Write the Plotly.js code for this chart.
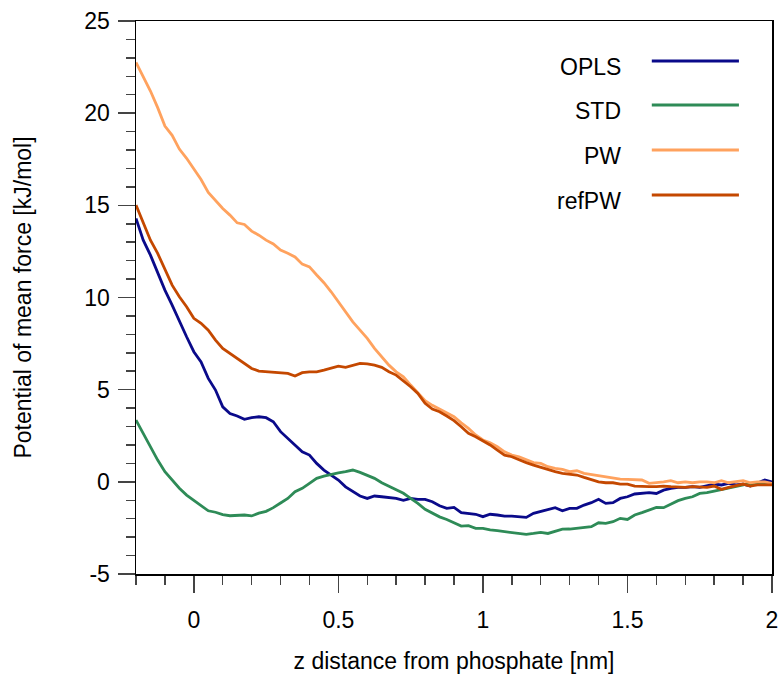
<!DOCTYPE html>
<html>
<head>
<meta charset="utf-8">
<script src="https://cdn.plot.ly/plotly-3.0.1.min.js"></script>
<style>html,body{margin:0;padding:0;background:#fff;}#chart{width:780px;height:682px;}</style>
</head>
<body>
<div id="chart"></div>
<script>
var zDist = [
 -0.2,-0.175,-0.15,-0.125,-0.1,-0.075,-0.05,-0.025,0,0.025,
 0.05,0.075,0.1,0.125,0.15,0.175,0.2,0.225,0.25,0.275,
 0.3,0.325,0.35,0.375,0.4,0.425,0.45,0.475,0.5,0.525,
 0.55,0.575,0.6,0.625,0.65,0.675,0.7,0.725,0.75,0.775,
 0.8,0.825,0.85,0.875,0.9,0.925,0.95,0.975,1.0,1.025,
 1.05,1.075,1.1,1.125,1.15,1.175,1.2,1.225,1.25,1.275,
 1.3,1.325,1.35,1.375,1.4,1.425,1.45,1.475,1.5,1.525,
 1.55,1.575,1.6,1.625,1.65,1.675,1.7,1.725,1.75,1.775,
 1.8,1.825,1.85,1.875,1.9,1.925,1.95,1.975,2.0];

var oplsPMF = [
 14.29,13.11,12.3,11.3,10.4,9.59,8.68,7.87,7.06,6.51,
 5.61,4.98,4.07,3.71,3.57,3.39,3.48,3.53,3.48,3.26,
 2.72,2.36,2.0,1.63,1.45,1.0,0.64,0.37,0.1,-0.27,
 -0.54,-0.77,-0.9,-0.77,-0.81,-0.85,-0.9,-1.0,-0.9,-0.95,
 -0.95,-1.08,-1.3,-1.44,-1.39,-1.67,-1.71,-1.76,-1.89,-1.76,
 -1.8,-1.86,-1.86,-1.89,-1.93,-1.71,-1.62,-1.53,-1.4,-1.57,
 -1.44,-1.44,-1.26,-1.13,-0.95,-1.17,-1.13,-0.9,-0.81,-0.66,
 -0.63,-0.59,-0.63,-0.45,-0.36,-0.3,-0.3,-0.26,-0.3,-0.23,
 -0.12,-0.17,-0.08,-0.17,-0.12,-0.23,-0.08,0.1,0.0];

var stdPMF = [
 3.35,2.63,1.9,1.18,0.55,0.1,-0.35,-0.72,-0.99,-1.26,
 -1.57,-1.65,-1.78,-1.84,-1.84,-1.8,-1.85,-1.7,-1.6,-1.4,
 -1.15,-0.9,-0.54,-0.35,-0.08,0.19,0.31,0.42,0.49,0.55,
 0.64,0.51,0.37,0.19,-0.05,-0.23,-0.41,-0.62,-0.9,-1.17,
 -1.49,-1.71,-1.9,-2.04,-2.22,-2.4,-2.38,-2.52,-2.52,-2.61,
 -2.65,-2.7,-2.76,-2.8,-2.85,-2.8,-2.74,-2.8,-2.7,-2.57,
 -2.56,-2.52,-2.47,-2.43,-2.22,-2.25,-2.16,-1.98,-2.04,-1.8,
 -1.67,-1.53,-1.39,-1.4,-1.2,-1.02,-0.9,-0.81,-0.63,-0.59,
 -0.5,-0.41,-0.36,-0.23,-0.14,-0.08,-0.12,-0.08,-0.12];

var pwPMF = [
 22.75,22.0,21.2,20.3,19.3,18.8,18.05,17.55,16.95,16.4,
 15.7,15.28,14.83,14.47,14.05,13.96,13.6,13.38,13.11,12.9,
 12.57,12.4,12.2,11.81,11.66,11.22,10.8,10.31,9.77,9.23,
 8.68,8.23,7.78,7.24,6.78,6.33,5.97,5.7,5.25,4.8,
 4.4,4.15,3.95,3.75,3.53,3.2,2.9,2.54,2.27,2.12,
 1.9,1.63,1.45,1.36,1.18,1.04,1.0,0.82,0.73,0.68,
 0.55,0.6,0.46,0.4,0.31,0.24,0.19,0.15,0.13,0.13,
 0.1,-0.08,-0.05,0.0,0.06,-0.05,0.0,-0.05,0.0,0.0,
 -0.05,0.06,-0.05,0.0,0.06,-0.05,0.0,0.0,-0.08];

var refpwPMF = [
 15.01,14.02,13.11,12.39,11.49,10.67,10.04,9.5,8.87,8.6,
 8.23,7.69,7.24,6.97,6.7,6.43,6.15,6.01,5.97,5.94,
 5.92,5.88,5.74,5.92,5.97,5.97,6.06,6.15,6.28,6.21,
 6.33,6.43,6.4,6.33,6.21,5.97,5.79,5.48,5.16,4.8,
 4.26,3.95,3.8,3.57,3.32,2.99,2.63,2.45,2.23,2.0,
 1.72,1.45,1.36,1.18,1.04,0.91,0.78,0.64,0.55,0.46,
 0.4,0.37,0.24,0.1,0.0,-0.05,-0.05,-0.12,-0.12,-0.23,
 -0.26,-0.26,-0.26,-0.23,-0.26,-0.3,-0.3,-0.26,-0.26,-0.3,
 -0.23,-0.41,-0.3,-0.23,-0.12,-0.23,-0.17,-0.17,-0.17];

var seriesNames = ['OPLS','STD','PW','refPW'];
var seriesData = [oplsPMF, stdPMF, pwPMF, refpwPMF];
var seriesColors = ['#0a0a8a','#2e8b57','#ffa25e','#c44800'];

var yTickVals = [-5,0,5,10,15,20,25];
var yTickText = ['-5','0','5','10','15','20','25'];
var xTickVals = [0,0.5,1,1.5,2];
var xTickText = ['0','0.5','1','1.5','2'];

var FONT = 'Liberation Sans, Arial, Helvetica, sans-serif';
var FS = 23;

var traces = seriesNames.map(function(n,i){
  return {x: zDist, y: seriesData[i], type:'scatter', mode:'lines', name:n,
    line:{color:seriesColors[i], width:2.8}, showlegend:false};
});

// legend drawn as text left of line sample (like the reference)
var legY = [0.9277, 0.848, 0.7667, 0.6854];
var textOffset = -0.0105;
var shapes = [];
var annotations = [];
seriesNames.forEach(function(n,i){
  shapes.push({type:'line', xref:'paper', yref:'paper', x0:0.811, x1:0.948, y0:legY[i], y1:legY[i],
    line:{color:seriesColors[i], width:3}});
  annotations.push({xref:'paper', yref:'paper', x:0.7657, y:legY[i]+textOffset, xanchor:'right', yanchor:'middle',
    text:n, showarrow:false, font:{family:FONT, size:FS, color:'#000'}});
});

var layout = {
  width:780, height:682,
  margin:{l:136, r:8, t:21, b:108},
  paper_bgcolor:'#fff', plot_bgcolor:'#fff',
  font:{family:FONT, size:FS, color:'#000'},
  xaxis:{range:[-0.2,2], tickmode:'array', tickvals:xTickVals, ticktext:xTickText,
    ticks:'outside', ticklen:17, tickwidth:1.5, tickcolor:'#444', ticklabelstandoff:8,
    showline:true, linecolor:'#000', linewidth:1.5, mirror:true, showgrid:false, zeroline:false,
    minor:{dtick:0.1, tick0:0, ticks:'outside', ticklen:9, tickwidth:1.5, tickcolor:'#444', showgrid:false},
    tickfont:{family:FONT, size:FS, color:'#000'},
    title:{text:'z distance from phosphate [nm]', font:{family:FONT, size:FS, color:'#000'}, standoff:21}},
  yaxis:{range:[-5,25], tickmode:'array', tickvals:yTickVals, ticktext:yTickText,
    ticks:'outside', ticklen:17, tickwidth:1.5, tickcolor:'#444', ticklabelstandoff:3,
    showline:true, linecolor:'#000', linewidth:1.5, mirror:true, showgrid:false, zeroline:false,
    minor:{dtick:1, tick0:0, ticks:'outside', ticklen:9, tickwidth:1.5, tickcolor:'#444', showgrid:false},
    tickfont:{family:FONT, size:FS, color:'#000'},
    title:{text:'Potential of mean force [kJ/mol]', font:{family:FONT, size:FS, color:'#000'}, standoff:46}},
  shapes:shapes,
  annotations:annotations
};

Plotly.newPlot('chart', traces, layout, {displayModeBar:false, staticPlot:true});
</script>
</body>
</html>
